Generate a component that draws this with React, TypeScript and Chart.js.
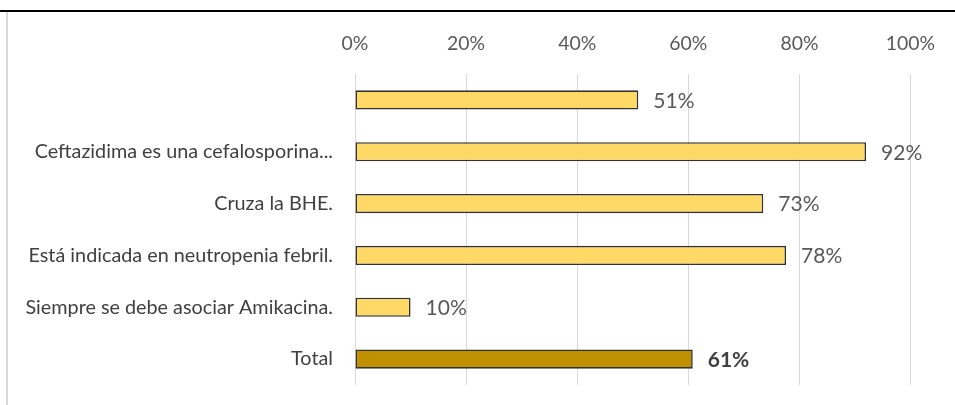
import React, { useEffect, useRef } from "react";
import { Chart, registerables } from "chart.js";

Chart.register(...registerables);

const categories = [
  "",
  "Ceftazidima es una cefalosporina...",
  "Cruza la BHE.",
  "Está indicada en neutropenia febril.",
  "Siempre se debe asociar Amikacina.",
  "Total",
];
const values = [0.51, 0.92, 0.735, 0.776, 0.1, 0.608];
const valueLabels = ["51%", "92%", "73%", "78%", "10%", "61%"];
const barColors = ["#FFD966", "#FFD966", "#FFD966", "#FFD966", "#FFD966", "#BF9000"];
const tickValues = [0, 0.2, 0.4, 0.6, 0.8, 1];

const FONT = "Lato, 'Open Sans', sans-serif";

const dataLabelPlugin = {
  id: "dataLabels",
  afterDatasetsDraw(chart: any) {
    const ctx = chart.ctx;
    const meta = chart.getDatasetMeta(0);
    ctx.save();
    meta.data.forEach((bar: any, i: number) => {
      const isTotal = i === categories.length - 1;
      ctx.font = `${isTotal ? "bold " : ""}21px ${FONT}`;
      ctx.fillStyle = isTotal ? "#404040" : "#595959";
      ctx.textAlign = "left";
      ctx.textBaseline = "middle";
      ctx.fillText(valueLabels[i], bar.x + 15, bar.y + 1);
    });
    ctx.restore();
  },
};

export default function App() {
  const ref = useRef<HTMLCanvasElement>(null);
  useEffect(() => {
    document.body.style.margin = "0";
    const chart = new Chart(ref.current!, {
      type: "bar",
      data: {
        labels: categories,
        datasets: [
          {
            data: values,
            backgroundColor: barColors,
            borderColor: "#333333",
            borderWidth: 1.6,
            borderSkipped: false,
            categoryPercentage: 1,
            barPercentage: 0.37,
          },
        ],
      },
      options: {
        indexAxis: "y",
        animation: false,
        responsive: false,
        maintainAspectRatio: false,
        layout: { padding: { left: 0, right: 44.5, top: 0, bottom: 20 } },
        plugins: { legend: { display: false }, tooltip: { enabled: false } },
        scales: {
          x: {
            position: "top",
            min: 0,
            max: 1,
            afterBuildTicks: (scale: any) => {
              scale.ticks = tickValues.map((v) => ({ value: v }));
            },
            afterFit: (scale: any) => {
              scale.height = 74;
              scale.paddingLeft = 0;
              scale.paddingRight = 0;
            },
            ticks: {
              callback: (v: any) => Math.round(Number(v) * 100) + "%",
              color: "#595959",
              font: { family: FONT, size: 19.4 },
              padding: 19,
            },
            grid: { color: "#d9d9d9", drawTicks: false, lineWidth: 1 },
            border: { display: false },
          },
          y: {
            afterFit: (scale: any) => {
              scale.width = 355;
              scale.paddingTop = 0;
              scale.paddingBottom = 0;
            },
            ticks: {
              color: "#404040",
              font: { family: FONT, size: 19.8 },
              padding: 22,
            },
            grid: { display: false, drawTicks: false },
            border: { display: false },
          },
        },
      },
      plugins: [dataLabelPlugin],
    } as any);
    return () => chart.destroy();
  }, []);
  return (
    <div style={{ position: "fixed", left: 0, top: 0, width: 955, height: 405, background: "#fff" }}>
      <div style={{ position: "absolute", left: 0, top: 10, width: 955, height: 2, background: "#000" }} />
      <div style={{ position: "absolute", left: 6, top: 12, width: 2, height: 393, background: "#d9d9d9" }} />
      <canvas ref={ref} width={955} height={405} style={{ position: "absolute", left: 0, top: 0 }} />
    </div>
  );
}
